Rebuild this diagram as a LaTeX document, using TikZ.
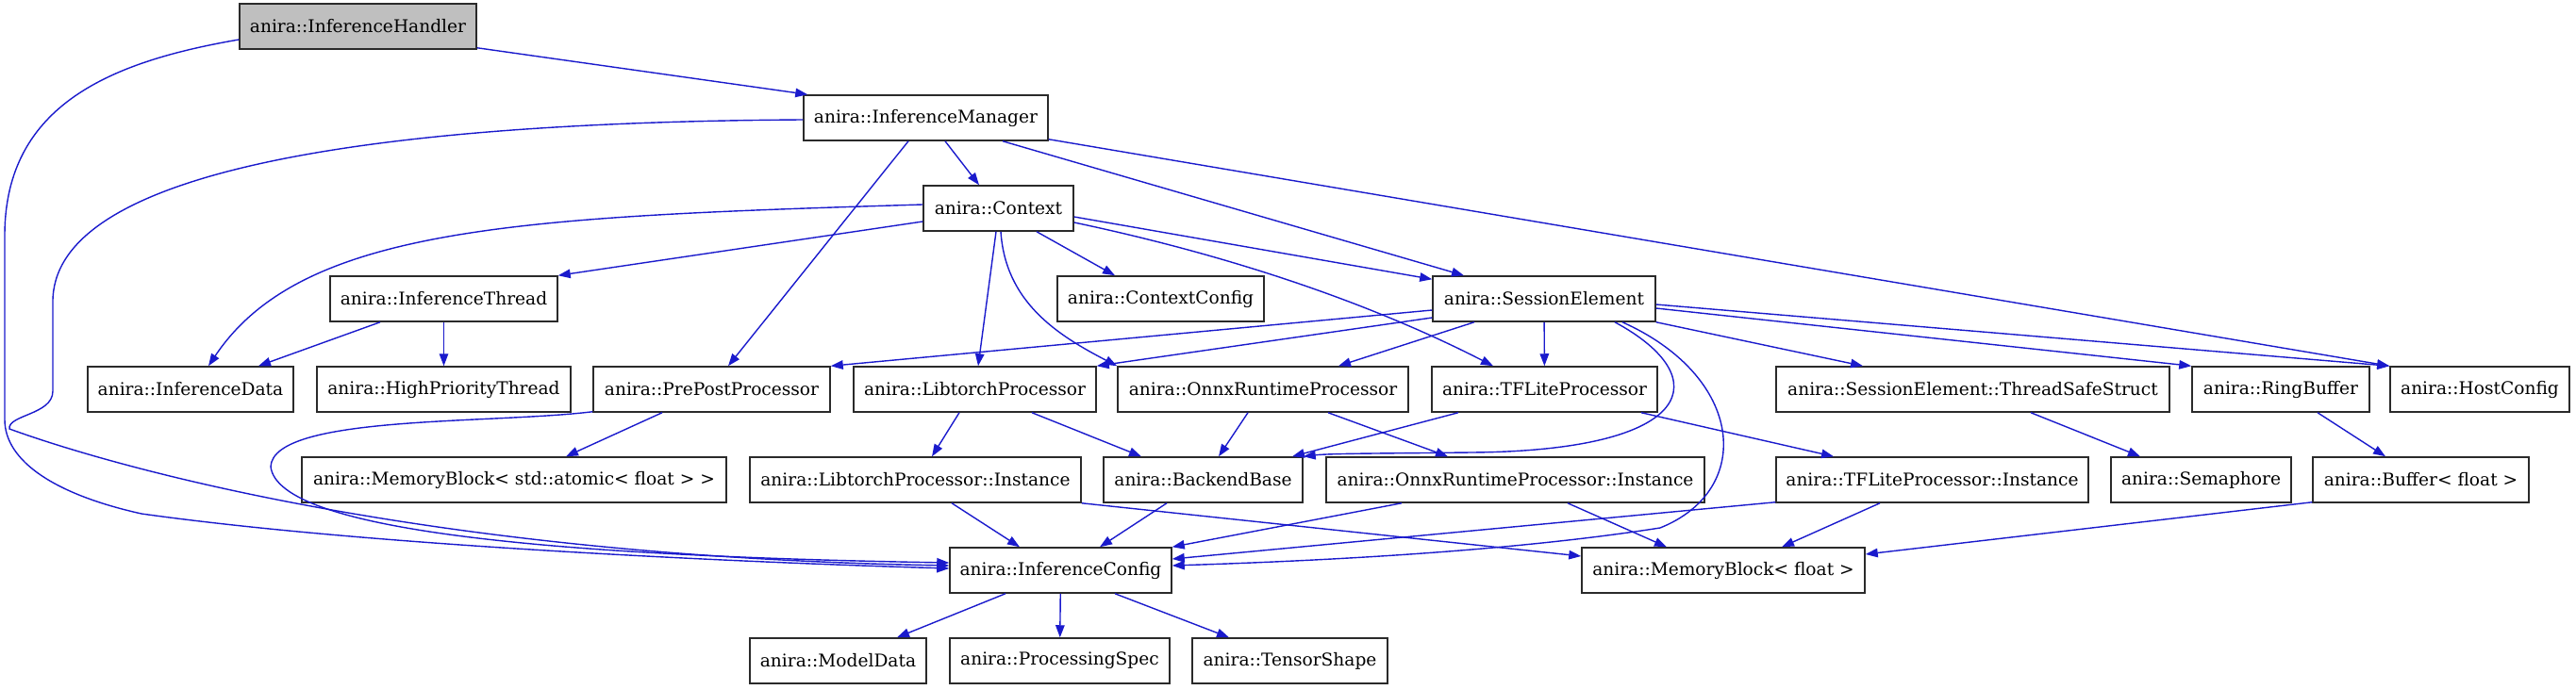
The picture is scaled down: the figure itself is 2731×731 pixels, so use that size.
\documentclass[tikz,border=0pt]{standalone}
\usepackage{fontspec}
\setmainfont{DejaVu Serif}
\usetikzlibrary{arrows.meta,calc}
\definecolor{edgec}{HTML}{1A1ACC}
\definecolor{boxc}{HTML}{2A2A2A}
\definecolor{rootc}{HTML}{BFBFBF}
\tikzset{
  cls/.style    ={draw=boxc,line width=1.5pt,fill=white,inner sep=0pt,
                  minimum height=48pt,font=\fontsize{18.6}{21}\selectfont},
  clsroot/.style={cls,fill=rootc},
  ar/.style     ={-{Triangle[length=13pt,width=9.5pt]},draw=edgec,line width=1.4pt},
}

\begin{document}
\begin{tikzpicture}[x=1pt,y=-1pt]
\useasboundingbox (0,0) rectangle (2731,731);

% ============================ nodes =====================================
\node[clsroot,minimum width=251pt] (handler)   at (379.5,28)  {anira::InferenceHandler};
\node[cls,minimum width=259pt]     (manager)   at (981.5,125) {anira::InferenceManager};
\node[cls,minimum width=159pt]     (context)   at (1058.5,221){anira::Context};
\node[cls,minimum width=241pt]     (thread)    at (470.5,317) {anira::InferenceThread};
\node[cls,minimum width=219pt]     (ctxcfg)    at (1230.5,317){anira::ContextConfig};
\node[cls,minimum width=236pt]     (session)   at (1637,317)  {anira::SessionElement};
\node[cls,minimum width=218pt]     (idata)     at (202,413)   {anira::InferenceData};
\node[cls,minimum width=269pt]     (hpthread)  at (470.5,413) {anira::HighPriorityThread};
\node[cls,minimum width=251pt]     (prepost)   at (754.5,413) {anira::PrePostProcessor};
\node[cls,minimum width=257pt]     (libtorch)  at (1033.5,413){anira::LibtorchProcessor};
\node[cls,minimum width=308pt]     (onnx)      at (1339,413)  {anira::OnnxRuntimeProcessor};
\node[cls,minimum width=239pt]     (tflite)    at (1637.5,413){anira::TFLiteProcessor};
\node[cls,minimum width=417pt]     (tss)       at (2091.5,413){anira::SessionElement::ThreadSafeStruct};
\node[cls,minimum width=188pt]     (ringbuf)   at (2418,413)  {anira::RingBuffer};
\node[cls,minimum width=190pt]     (hostcfg)   at (2629,413)  {anira::HostConfig};
\node[cls,minimum width=450pt]     (mbatomic)  at (545,509)   {anira::MemoryBlock< std::atomic< float > >};
\node[cls,minimum width=351pt]     (ltinst)    at (970.5,509) {anira::LibtorchProcessor::Instance};
\node[cls,minimum width=211pt]     (backend)   at (1275.5,509){anira::BackendBase};
\node[cls,minimum width=401pt]     (onnxinst)  at (1606.5,509){anira::OnnxRuntimeProcessor::Instance};
\node[cls,minimum width=331pt]     (tfinst)    at (2048.5,509){anira::TFLiteProcessor::Instance};
\node[cls,minimum width=191pt]     (sema)      at (2333.5,509){anira::Semaphore};
\node[cls,minimum width=229pt]     (buffer)    at (2566.5,509){anira::Buffer< float >};
\node[cls,minimum width=235pt]     (infcfg)    at (1124.5,605){anira::InferenceConfig};
\node[cls,minimum width=300pt]     (mbfloat)   at (1827,605)  {anira::MemoryBlock< float >};
\node[cls,minimum width=187pt]     (modeldata) at (888.5,701) {anira::ModelData};
\node[cls,minimum width=233pt]     (procspec)  at (1123.5,701){anira::ProcessingSpec};
\node[cls,minimum width=207pt]     (tensor)    at (1367.5,701){anira::TensorShape};

% ============================ handler / manager =========================
\draw[ar]([yshift=2]handler.south east)--([xshift=5]manager.north west);
\draw[ar]([yshift=-14]handler.west) .. controls (120,65) and (5,110) .. (5,250)
  -- (5,445) .. controls (5,490) and (60,525) .. (150,545)
  .. controls (400,580) and (800,597) .. ([yshift=2]infcfg.west);
\draw[ar]([yshift=-2]manager.west) .. controls (350,130) and (56,190) .. (56,320)
  -- (56,415) .. controls (56,440) and (8,440) .. (10,455)
  .. controls (120,495) and (450,590) .. ([yshift=5]infcfg.west);
\draw[ar]([xshift=20.5]manager.south)--([xshift=-20.5]context.north);
\draw[ar]([xshift=-18.5]manager.south)--([xshift=17.5]prepost.north);
\draw[ar]([xshift=81.5]manager.south)--([xshift=-85]session.north);
\draw[ar]([yshift=2]manager.south east)--(hostcfg.north west);

% ============================ context ===================================
\draw[ar]([yshift=4]context.west) .. controls (550,230) and (320,240) .. ([xshift=19]idata.north);
\draw[ar]([yshift=-14]context.west)--(thread.north east);
\draw[ar]([xshift=-2.5]context.south)--([xshift=3.5]libtorch.north);
\draw[ar]([xshift=2.5]context.south) .. controls (1066,320) and (1120,355) .. (onnx.north west);
\draw[ar]([xshift=40.5]context.south)--([xshift=-48.5]ctxcfg.north);
\draw[ar]([yshift=-9]context.east)--([yshift=-4]session.north west);
\draw[ar]([yshift=-15]context.east) .. controls (1300,270) and (1450,320) .. ([xshift=-54.5]tflite.north);
\draw[ar]([xshift=-67.5]thread.south)--([xshift=72]idata.north);
\draw[ar](thread)--(hpthread);

% ============================ session element ===========================
\draw[ar]([yshift=-12]session.west)--(prepost.north east);
\draw[ar]([yshift=-20]session.west)--(libtorch.north east);
\draw[ar]([xshift=-74]session.south)--([xshift=80]onnx.north);
\draw[ar](session)--(tflite);
\draw[ar]([xshift=75]session.south) .. controls (1820,400) and (1800,478) .. (1560,480)
  .. controls (1470,481) and (1410,481) .. (backend.north east);
\draw[ar]([xshift=83]session.south) .. controls (1850,400) and (1860,520) .. (1760,560)
  .. controls (1600,585) and (1400,595) .. ([yshift=5]infcfg.east);
\draw[ar](session.south east)--([xshift=-116.5]tss.north);
\draw[ar]([yshift=-10]session.east)--(ringbuf.north west);
\draw[ar]([yshift=-6]session.east)--(hostcfg.north west);

% ============================ processors ================================
\draw[ar]([xshift=-52.5]prepost.south)--([xshift=55]mbatomic.north);
\draw[ar]([yshift=1]prepost.south west) .. controls (520,450) and (290,440) .. (287,495)
  .. controls (295,565) and (600,590) .. ([yshift=8]infcfg.west);
\draw[ar]([xshift=-16.5]libtorch.south)--([xshift=17.5]ltinst.north);
\draw[ar]([xshift=60.5]libtorch.south)--([xshift=-65.5]backend.north);
\draw[ar]([xshift=-16]onnx.south)--([xshift=16.5]backend.north);
\draw[ar]([xshift=69]onnx.south)--([xshift=-71.5]onnxinst.north);
\draw[ar]([xshift=-91.5]tflite.south)--([xshift=94.5]backend.north);
\draw[ar]([xshift=102.5]tflite.south)--([xshift=-104.5]tfinst.north);
\draw[ar]([xshift=61.5]tss.south)--([xshift=-64.5]sema.north);
\draw[ar]([xshift=39]ringbuf.south)--([xshift=-37.5]buffer.north);

% ============================ instances =================================
\draw[ar]([xshift=38.5]ltinst.south)--([xshift=-43.5]infcfg.north);
\draw[ar](ltinst.south east)--([yshift=15]mbfloat.west);
\draw[ar]([xshift=-38.5]backend.south)--([xshift=41.5]infcfg.north);
\draw[ar]([xshift=-120.5]onnxinst.south)--(infcfg.north east);
\draw[ar]([xshift=55.5]onnxinst.south)--([xshift=-60]mbfloat.north);
\draw[ar]([yshift=1]tfinst.south west)--([yshift=12]infcfg.east);
\draw[ar]([xshift=-55.5]tfinst.south)--([xshift=62]mbfloat.north);
\draw[ar]([yshift=1]buffer.south west)--([yshift=17]mbfloat.east);

% ============================ inference config ==========================
\draw[ar]([xshift=-58.5]infcfg.south)--([xshift=62.5]modeldata.north);
\draw[ar](infcfg)--(procspec);
\draw[ar]([xshift=57.5]infcfg.south)--([xshift=-64.5]tensor.north);
\end{tikzpicture}
\end{document}
